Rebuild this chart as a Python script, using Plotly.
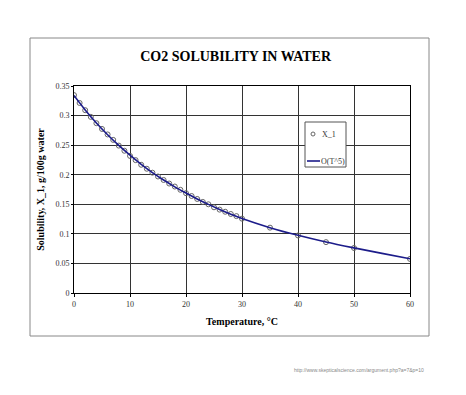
import plotly.graph_objects as go

temps = [0, 1, 2, 3, 4, 5, 6, 7, 8, 9, 10, 11, 12, 13, 14, 15, 16, 17, 18, 19,
         20, 21, 22, 23, 24, 25, 26, 27, 28, 29, 30, 35, 40, 45, 50, 60]
x1_vals = [0.3346, 0.3213, 0.3091, 0.2978, 0.2871, 0.2774, 0.2681, 0.2589, 0.2492, 0.2405,
           0.2318, 0.2247, 0.2168, 0.2101, 0.2034, 0.1970, 0.1911, 0.1851, 0.1800, 0.1745,
           0.1688, 0.1640, 0.1590, 0.1540, 0.1500, 0.1449, 0.1410, 0.1374, 0.1336, 0.1300,
           0.1257, 0.1105, 0.0973, 0.0860, 0.0761, 0.0576]
fit_temps = [0, 2, 4, 6, 8, 10, 12, 14, 16, 18, 20, 22, 24, 26, 28, 30, 35, 40, 45, 50, 55, 60]
fit_vals = [0.3340, 0.3095, 0.2873, 0.2675, 0.2495, 0.2330, 0.2175, 0.2035, 0.1910, 0.1795,
            0.1690, 0.1590, 0.1498, 0.1412, 0.1333, 0.1260, 0.1105, 0.0975, 0.0862, 0.0763,
            0.0670, 0.0578]
x_ticks = [0, 10, 20, 30, 40, 50, 60]
y_ticks = [0, 0.05, 0.1, 0.15, 0.2, 0.25, 0.3, 0.35]
y_labels = ["0", "0.05", "0.1", "0.15", "0.2", "0.25", "0.3", "0.35"]
series_names = ["X_1", "O(T^5)"]

OFF = 8  # page body margin
W, H = 466 - OFF, 395 - OFF
L, R, T, B = 74 - OFF, 410 - OFF, 86 - OFF, 293 - OFF

MARK_COLOR = "#666666"
LINE_COLOR = "#1c1c8a"

fig = go.Figure()
fig.add_trace(go.Scatter(
    x=temps, y=x1_vals, mode="markers", name=series_names[0],
    marker=dict(symbol="circle-open", size=5, color=MARK_COLOR, line=dict(width=1)),
    showlegend=False,
))
fig.add_trace(go.Scatter(
    x=fit_temps, y=fit_vals, mode="lines", name=series_names[1],
    line=dict(color=LINE_COLOR, width=1.6, shape="spline"),
    showlegend=False,
))

def px(xp):
    return (xp - OFF - L) / (R - L)

def py(yp):
    return (B - (yp - OFF)) / (B - T)

# outer chart border
fig.add_shape(type="rect", xref="paper", yref="paper",
              x0=px(30), x1=px(429), y0=py(336), y1=py(38),
              line=dict(color="#888888", width=1), fillcolor="rgba(0,0,0,0)", layer="below")

# custom legend
fig.add_shape(type="rect", xref="paper", yref="paper",
              x0=px(305), x1=px(346), y0=py(167), y1=py(122),
              line=dict(color="#555555", width=1), fillcolor="white", layer="above")
fig.add_shape(type="circle", xref="paper", yref="paper",
              x0=px(311), x1=px(315), y0=py(136), y1=py(132),
              line=dict(color=MARK_COLOR, width=1), fillcolor="white", layer="above")
fig.add_shape(type="line", xref="paper", yref="paper",
              x0=px(307), x1=px(320), y0=py(161), y1=py(161),
              line=dict(color=LINE_COLOR, width=1.6), layer="above")
fig.add_annotation(text=series_names[0], xref="paper", yref="paper",
                   x=px(320), y=py(134), xanchor="left", yanchor="middle", showarrow=False,
                   font=dict(family="Liberation Serif", size=8, color="#333333"))
fig.add_annotation(text=series_names[1], xref="paper", yref="paper",
                   x=px(319), y=py(161), xanchor="left", yanchor="middle", showarrow=False,
                   font=dict(family="Liberation Serif", size=8, color="#333333"))

fig.add_annotation(text="http://www.skepticalscience.com/argument.php?a=7&p=10",
                   xref="paper", yref="paper", x=px(426), y=py(370),
                   xanchor="right", yanchor="middle", showarrow=False,
                   font=dict(family="Liberation Sans", size=5, color="#888888"))

fig.update_layout(
    width=W, height=H,
    margin=dict(l=L, r=W - R, t=T, b=H - B),
    paper_bgcolor="white", plot_bgcolor="white",
    font=dict(family="Liberation Serif", color="black"),
    title=dict(text="<b>CO2 SOLUBILITY IN WATER</b>", x=px(241), xanchor="center",
               y=1 - (56 - OFF) / H, yanchor="middle", font=dict(size=14, family="Liberation Serif")),
    showlegend=False,
    xaxis=dict(range=[0, 60], tickvals=x_ticks, showgrid=True, gridcolor="#333333", gridwidth=1,
               showline=True, linecolor="black", linewidth=1, mirror=True,
               ticks="outside", ticklen=3, tickcolor="black",
               tickfont=dict(size=8, color="#333333"), zeroline=False,
               title=dict(text="<b>Temperature, °C</b>", font=dict(size=10), standoff=10)),
    yaxis=dict(range=[0, 0.35], tickvals=y_ticks, ticktext=y_labels, showgrid=True,
               gridcolor="#333333", gridwidth=1,
               showline=True, linecolor="black", linewidth=1, mirror=True,
               ticks="outside", ticklen=2, tickcolor="black",
               tickfont=dict(size=8, color="#333333"), zeroline=False,
               title=dict(text="<b>Solubility, X_1, g/100g water</b>", font=dict(size=10), standoff=8)),
)

fig.write_html("out.html")
